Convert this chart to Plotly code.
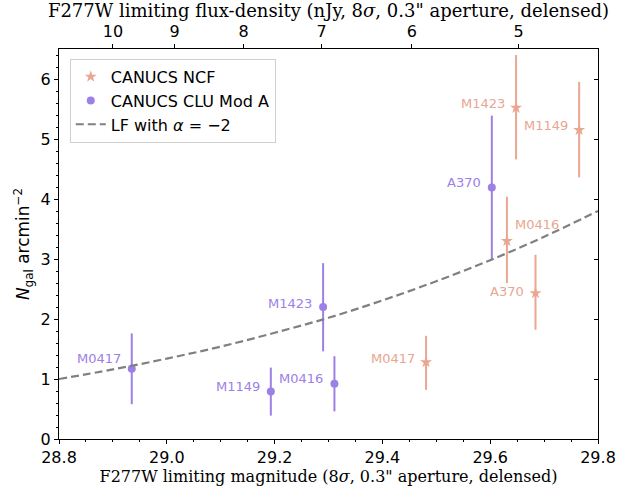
import numpy as np
import plotly.graph_objects as go

# ---- data ----
clu_names = ["M0417", "M1149", "M0416", "M1423", "A370"]
clu_mag = [28.935, 29.193, 29.311, 29.290, 29.603]
clu_N = [1.17, 0.79, 0.92, 2.20, 4.19]
clu_hi = [1.76, 1.19, 1.38, 2.93, 5.39]
clu_lo = [0.58, 0.39, 0.46, 1.46, 2.98]

ncf_names = ["M0417", "A370", "M0416", "M1423", "M1149"]
ncf_mag = [29.481, 29.684, 29.631, 29.648, 29.765]
ncf_N = [1.28, 2.43, 3.30, 5.52, 5.15]
ncf_hi = [1.72, 3.07, 4.04, 6.40, 5.95]
ncf_lo = [0.82, 1.82, 2.60, 4.66, 4.36]

lf_mag = [28.8, 28.9, 29.0, 29.1, 29.2, 29.3, 29.4, 29.5, 29.6, 29.7, 29.8]
lf_N = [1.00, 1.16, 1.34, 1.54, 1.77, 2.02, 2.31, 2.63, 2.98, 3.37, 3.80]

flux_ticks = [10, 9, 8, 7, 6, 5]
x_ticks = [28.8, 29.0, 29.2, 29.4, 29.6, 29.8]
y_ticks = [0, 1, 2, 3, 4, 5, 6]

PURPLE = "#9d80e6"
SALMON = "#e9a690"
SERIF = "DejaVu Serif"
SANS = "DejaVu Sans"

flux_mag = [31.4 - 2.5 * np.log10(f) for f in flux_ticks]

fig = go.Figure()

fig.add_trace(go.Scatter(
    x=ncf_mag, y=ncf_N, mode="markers", name="CANUCS NCF",
    marker=dict(symbol="star", size=9, color=SALMON),
    error_y=dict(type="data", symmetric=False,
                 array=[h - n for h, n in zip(ncf_hi, ncf_N)],
                 arrayminus=[n - l for n, l in zip(ncf_N, ncf_lo)],
                 color=SALMON, thickness=2, width=0),
))
fig.add_trace(go.Scatter(
    x=clu_mag, y=clu_N, mode="markers", name="CANUCS CLU Mod A",
    marker=dict(symbol="circle", size=8, color=PURPLE),
    error_y=dict(type="data", symmetric=False,
                 array=[h - n for h, n in zip(clu_hi, clu_N)],
                 arrayminus=[n - l for n, l in zip(clu_N, clu_lo)],
                 color=PURPLE, thickness=2, width=0),
))
fig.add_trace(go.Scatter(
    x=lf_mag, y=lf_N, mode="lines", name="LF with <i>α</i> = −2",
    line=dict(color="#808080", width=2.2, dash="8px,4px", shape="spline"),
))
# dummy trace for top / right axes
fig.add_trace(go.Scatter(x=[28.8, 29.8], y=[None, None], xaxis="x2", yaxis="y2",
                         showlegend=False, hoverinfo="skip", mode="lines"))

# point labels
ncf_off = {"M0417": (-9, -4, "right"), "A370": (-9, -2, "right"), "M0416": (6, -17, "left"),
           "M1423": (-9, -4, "right"), "M1149": (-9, -5, "right")}
clu_off = {"M0417": (-9, -10, "right"), "M1149": (-9, -5, "right"), "M0416": (-9, -5, "right"),
           "M1423": (-9, -4, "right"), "A370": (-9, -5, "right")}
annotations = []
for nm, xm, yn in zip(ncf_names, ncf_mag, ncf_N):
    dx, dy, anc = ncf_off[nm]
    annotations.append(dict(x=xm, y=yn, xref="x", yref="y", text=nm, showarrow=False,
                            xanchor=anc, yanchor="middle", xshift=dx, yshift=-dy,
                            font=dict(family=SANS, size=13, color=SALMON)))
for nm, xm, yn in zip(clu_names, clu_mag, clu_N):
    dx, dy, anc = clu_off[nm]
    annotations.append(dict(x=xm, y=yn, xref="x", yref="y", text=nm, showarrow=False,
                            xanchor=anc, yanchor="middle", xshift=dx, yshift=-dy,
                            font=dict(family=SANS, size=13, color=PURPLE)))

axis_common = dict(showline=True, linecolor="black", linewidth=1.3, showgrid=False,
                   zeroline=False, ticks="outside", tickcolor="black", tickwidth=1.2)

fig.update_layout(
    width=642, height=488,
    margin=dict(l=59, r=44, t=49, b=49),
    paper_bgcolor="white", plot_bgcolor="white",
    showlegend=True,
    legend=dict(x=0.02, y=0.975, xanchor="left", yanchor="top",
                bgcolor="rgba(255,255,255,0.8)", bordercolor="#d0d0d0", borderwidth=1,
                font=dict(family=SANS, size=16, color="black"),
                tracegroupgap=0, itemwidth=30),
    annotations=annotations,
    xaxis=dict(**axis_common, range=[28.8, 29.8], tickvals=x_ticks,
               ticktext=[f"{v:.1f}" for v in x_ticks], ticklen=4,
               tickfont=dict(family=SANS, size=16, color="black"),
               minor=dict(dtick=0.05, tick0=28.8, ticks="outside", ticklen=2, tickcolor="black"),
               title=dict(text='F277W limiting magnitude (8<i>σ</i>, 0.3" aperture, delensed)',
                          font=dict(family=SERIF, size=16, color="black"), standoff=2),
               automargin=False),
    xaxis2=dict(**axis_common, overlaying="x", side="top", range=[28.8, 29.8],
                tickvals=flux_mag, ticktext=[str(f) for f in flux_ticks], ticklen=4,
                tickfont=dict(family=SANS, size=16, color="black"),
                title=dict(text='F277W limiting flux-density (nJy, 8<i>σ</i>, 0.3" aperture, delensed)',
                           font=dict(family=SERIF, size=18, color="black"), standoff=0),
                automargin=False),
    yaxis=dict(**axis_common, range=[0, 6.5], tickvals=y_ticks, ticklen=4,
               tickfont=dict(family=SANS, size=16, color="black"),
               minor=dict(dtick=0.2, tick0=0, ticks="outside", ticklen=2, tickcolor="black"),
               title=dict(text="<i>N</i><sub>gal</sub> arcmin<sup>−2</sup>",
                          font=dict(family=SANS, size=17, color="black"), standoff=6),
               automargin=False),
    yaxis2=dict(showline=True, linecolor="black", linewidth=1.3, showgrid=False, zeroline=False,
                overlaying="y", side="right", range=[0, 6.5], tickvals=y_ticks,
                ticks="inside", ticklen=4, tickcolor="black", showticklabels=False,
                automargin=False),
)

fig.write_html("out.html")
